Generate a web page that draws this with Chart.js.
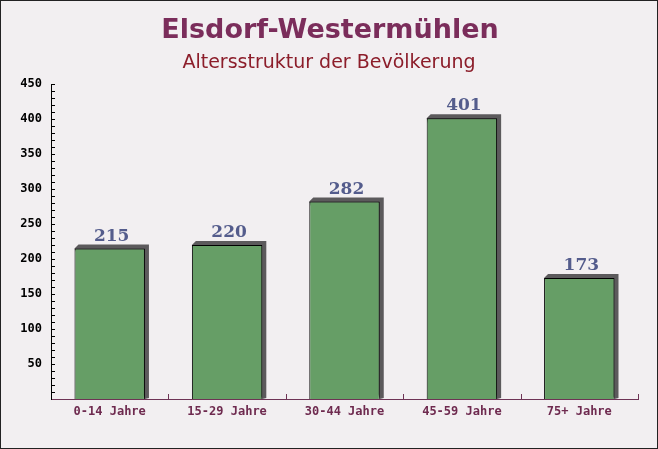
<!DOCTYPE html>
<html>
<head>
<meta charset="utf-8">
<script src="https://cdn.jsdelivr.net/npm/chart.js@4"></script>
<style>
html,body{margin:0;padding:0;background:#f2eff1;}
#wrap{width:658px;height:449px;position:relative;}
canvas{display:block;}
</style>
</head>
<body>
<div id="wrap"><canvas id="c" width="658" height="449"></canvas></div>
<script>
const titleText = "Elsdorf-Westermühlen";
const subtitleText = "Altersstruktur der Bevölkerung";
const categories = ["0-14 Jahre", "15-29 Jahre", "30-44 Jahre", "45-59 Jahre", "75+ Jahre"];
const population = [215, 220, 282, 401, 173];
const yTicks = [50, 100, 150, 200, 250, 300, 350, 400, 450];

const decorPlugin = {
  id: 'decor',
  beforeDraw(chart) {
    const ctx = chart.ctx;
    ctx.save();
    ctx.fillStyle = '#f2eff1';
    ctx.fillRect(0, 0, chart.width, chart.height);
    ctx.strokeStyle = '#222';
    ctx.lineWidth = 1;
    ctx.strokeRect(0.5, 0.5, chart.width - 1, chart.height - 1);
    ctx.textAlign = 'center';
    ctx.textBaseline = 'middle';
    ctx.fillStyle = '#7b2d5b';
    ctx.font = 'bold 27px "DejaVu Sans"';
    ctx.fillText(titleText, chart.width / 2 + 1, 31);
    ctx.fillStyle = '#8c1d2a';
    ctx.font = '19px "DejaVu Sans"';
    ctx.fillText(subtitleText, chart.width / 2, 63);
    ctx.restore();
  },
  beforeDatasetsDraw(chart) {
    const ctx = chart.ctx;
    const meta = chart.getDatasetMeta(0);
    const d = 4;
    ctx.save();
    ctx.fillStyle = '#5c5a5c';
    meta.data.forEach(bar => {
      const w = bar.width;
      const l = bar.x - w / 2, r = bar.x + w / 2, t = bar.y, b = bar.base;
      ctx.beginPath();
      ctx.moveTo(l, t);
      ctx.lineTo(l + d, t - d);
      ctx.lineTo(r + d, t - d);
      ctx.lineTo(r + d, b - 1);
      ctx.lineTo(r, b);
      ctx.closePath();
      ctx.fill();
    });
    ctx.restore();
  },
  afterDatasetsDraw(chart) {
    const ctx = chart.ctx;
    const meta = chart.getDatasetMeta(0);
    ctx.save();
    ctx.fillStyle = '#545c8c';
    ctx.font = 'bold 17px "DejaVu Serif"';
    ctx.textAlign = 'center';
    ctx.textBaseline = 'alphabetic';
    meta.data.forEach((bar, i) => {
      ctx.fillText(String(population[i]), bar.x + 2, bar.y - 8);
    });
    const ys = chart.scales.y, xs = chart.scales.x;
    const area = chart.chartArea;
    ctx.strokeStyle = '#000';
    ctx.lineWidth = 1;
    for (let v = 10; v <= 450; v += 10) {
      const py = Math.round(ys.getPixelForValue(v)) + 0.5;
      ctx.beginPath();
      ctx.moveTo(area.left, py);
      ctx.lineTo(area.left + 4, py);
      ctx.stroke();
    }
    ctx.strokeStyle = '#6e3355';
    const n = categories.length;
    const step = xs.getPixelForTick(1) - xs.getPixelForTick(0);
    for (let i = 0; i < n; i++) {
      const px = Math.round(xs.getPixelForTick(i) + step / 2) + 0.5;
      ctx.beginPath();
      ctx.moveTo(px, area.bottom);
      ctx.lineTo(px, area.bottom - 5);
      ctx.stroke();
    }
    ctx.restore();
  }
};

new Chart(document.getElementById('c'), {
  type: 'bar',
  data: {
    labels: categories,
    datasets: [{
      data: population,
      backgroundColor: 'rgb(102,158,102)',
      borderColor: '#000',
      borderWidth: 1,
      categoryPercentage: 0.6,
      barPercentage: 1.0
    }]
  },
  options: {
    responsive: false,
    animation: false,
    devicePixelRatio: 1,
    layout: { padding: { top: 84, right: 20, left: 0, bottom: 0 } },
    plugins: { legend: { display: false }, tooltip: { enabled: false }, title: { display: false } },
    scales: {
      x: {
        grid: { display: false, drawTicks: false },
        border: { display: true, color: '#6e3355', width: 1 },
        ticks: { color: '#6e2a4f', font: { family: '"DejaVu Sans Mono"', size: 12, weight: 'bold' }, padding: 6, maxRotation: 0 },
        afterFit(scale) { scale.height = 50; }
      },
      y: {
        min: 0, max: 450,
        afterBuildTicks(scale) { scale.ticks = yTicks.map(v => ({ value: v })); },
        grid: { display: false, drawTicks: false },
        border: { display: true, color: '#000', width: 1 },
        ticks: { color: '#000', font: { family: '"DejaVu Sans Mono"', size: 12, weight: 'bold' }, padding: 9 },
        afterFit(scale) { scale.width = 51; }
      }
    }
  },
  plugins: [decorPlugin]
});
</script>
</body>
</html>
